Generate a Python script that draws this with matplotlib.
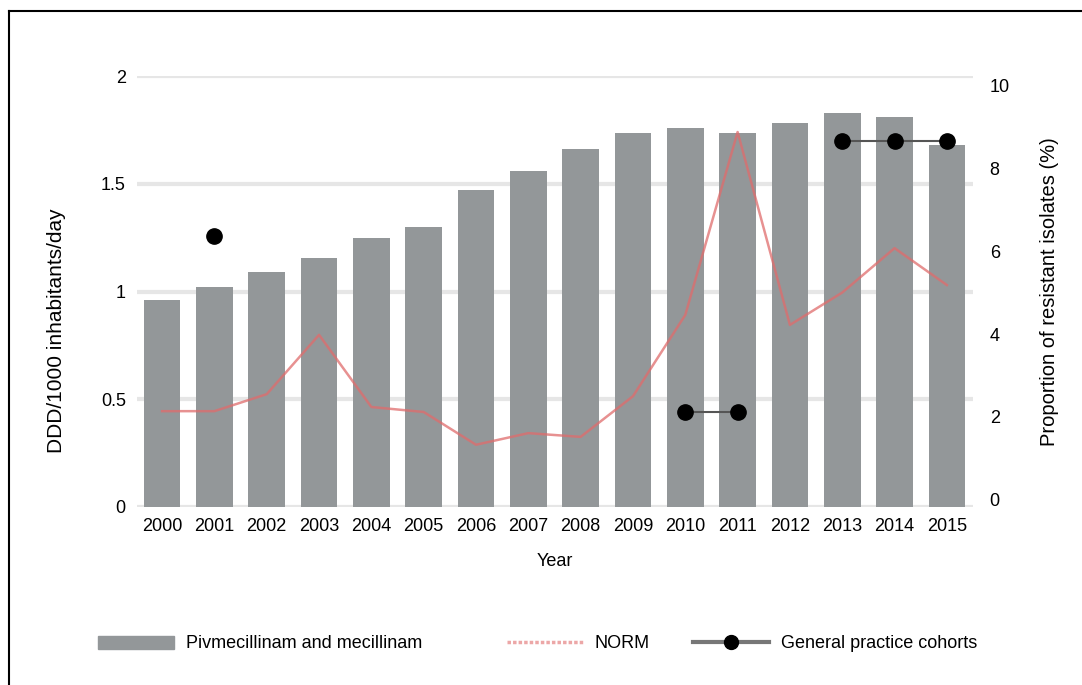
import matplotlib.pyplot as plt
from matplotlib.lines import Line2D
from matplotlib.patches import Patch

plt.rcParams['font.family'] = ['Liberation Sans', 'DejaVu Sans']
plt.rcParams['font.size'] = 13

years = [str(y) for y in range(2000, 2016)]
ddd = [0.96, 1.02, 1.09, 1.155, 1.25, 1.30, 1.47, 1.56, 1.66, 1.735,
       1.76, 1.735, 1.78, 1.83, 1.81, 1.68]
norm = [2.14, 2.14, 2.55, 3.98, 2.24, 2.12, 1.33, 1.61, 1.52, 2.5,
        4.46, 8.87, 4.22, 5.0, 6.07, 5.18]
# general practice cohorts: year indices and values, one group per cohort
cohorts = [([1], [6.36]), ([10, 11], [2.12, 2.12]), ([13, 14, 15], [8.65, 8.65, 8.65])]

bar_color = '#939799'
norm_color = '#e06c6c'

fig = plt.figure(figsize=(10.82, 6.85), dpi=100)
ax = fig.add_axes([0.1266, 0.2599, 0.7727, 0.6291])
x = list(range(len(years)))

ax.bar(x, ddd, width=0.7, color=bar_color, zorder=2)
ax.set_ylim(0, 2)
ax.set_yticks([0, 0.5, 1, 1.5, 2])
ax.set_yticklabels(['0', '0.5', '1', '1.5', '2'])
ax.set_xlim(-0.48, 15.5)
ax.set_xticks(x)
ax.set_xticklabels(years)
ax.grid(axis='y', color='#e6e6e6', linewidth=3, zorder=0)
ax.set_axisbelow(True)
ax.tick_params(length=0, pad=8)
for s in ax.spines.values():
    s.set_visible(False)
ax.set_ylabel('DDD/1000 inhabitants/day', fontsize=15)
ax.yaxis.set_label_coords(-0.085, 0.41)
ax.set_xlabel('Year', labelpad=13)

ax2 = ax.twinx()
ax2.set_ylim(-0.17, 10.22)
ax2.set_yticks([0, 2, 4, 6, 8, 10])
ax2.tick_params(length=0, pad=12)
for s in ax2.spines.values():
    s.set_visible(False)
ax2.set_ylabel('Proportion of resistant isolates (%)', fontsize=14.5, labelpad=22)

ax2.plot(x, norm, color=norm_color, linewidth=1.8, alpha=0.75, zorder=3)
for cx, cy in cohorts:
    ax2.plot(cx, cy, color='#555555', linewidth=1.5, marker='o',
             markersize=11, markerfacecolor='black', markeredgecolor='black', zorder=4)

# legend entries placed one by one (uneven gaps in the original)
handles = [Patch(color=bar_color),
           Line2D([], [], color=norm_color, linewidth=2.5, linestyle=(0, (1, 0.6)), alpha=0.6),
           Line2D([], [], color='#777777', linewidth=3, marker='o', markersize=10,
                  markerfacecolor='black', markeredgecolor='black')]
labels = ['Pivmecillinam and mecillinam', 'NORM', 'General practice cohorts']
starts = [98, 507, 693]
for h, lab, px in zip(handles, labels, starts):
    fig.legend([h], [lab], loc='center left', bbox_to_anchor=(px / 1082, 1 - 644 / 685),
               frameon=False, handlelength=4.2, handletextpad=0.65, borderpad=0,
               borderaxespad=0, fontsize=13)

# frame lines on the top and left of the figure
fig.add_artist(Line2D([9 / 1082, 9 / 1082], [0, 1 - 11 / 685], color='black', linewidth=1.5,
                      transform=fig.transFigure))
fig.add_artist(Line2D([9 / 1082, 1], [1 - 11 / 685, 1 - 11 / 685], color='black', linewidth=1.5,
                      transform=fig.transFigure))

fig.savefig('out.png', dpi=100)
